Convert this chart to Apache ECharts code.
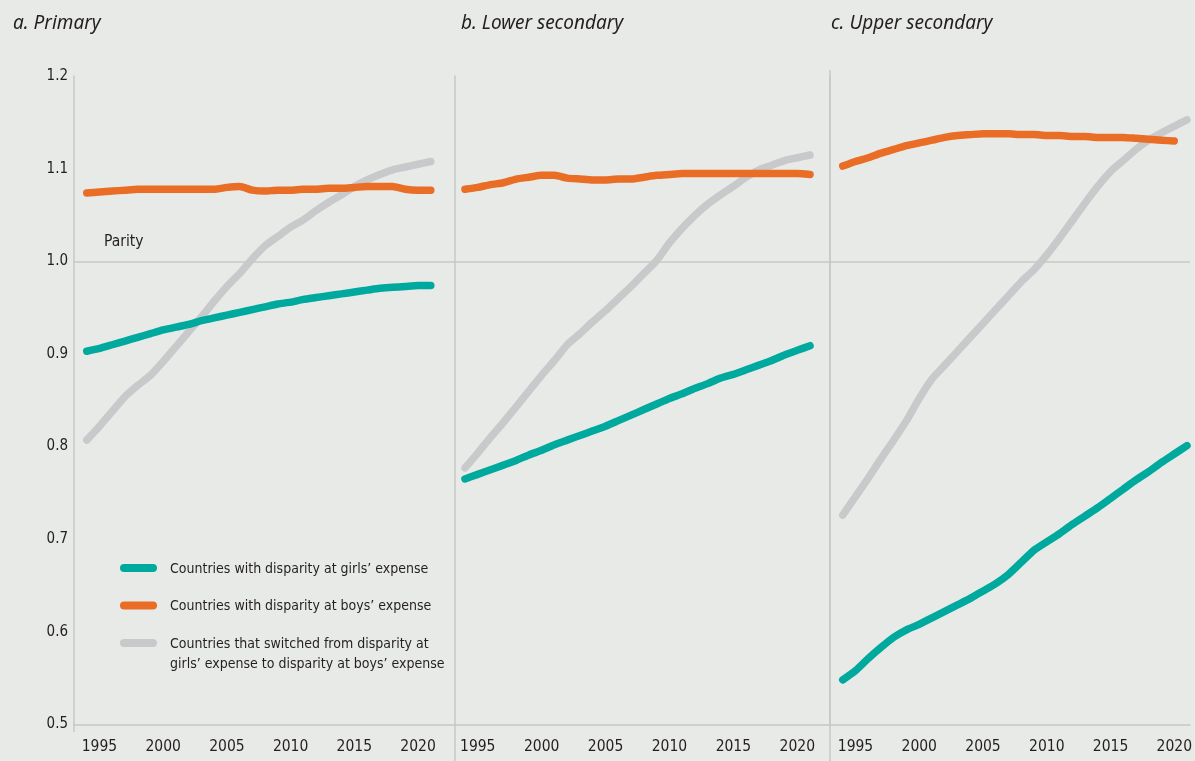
<!DOCTYPE html>
<html><head><meta charset="utf-8">
<script src="https://cdn.jsdelivr.net/npm/echarts@6/dist/echarts.min.js"></script>
<style>html,body{margin:0;padding:0;background:#e8eae7;}#c{width:1195px;height:761px;}</style>
</head><body><div id="c"></div><script>
const years = [1994,1995,1996,1997,1998,1999,2000,2001,2002,2003,2004,2005,2006,2007,2008,2009,2010,2011,2012,2013,2014,2015,2016,2017,2018,2019,2020,2021];
const xTickLabels = [1995,2000,2005,2010,2015,2020];
const yTickLabels = [0.5,0.6,0.7,0.8,0.9,1.0,1.1,1.2];
const panelTitles = ['a. Primary','b. Lower secondary','c. Upper secondary'];
const seriesNames = ['Countries with disparity at girls\u2019 expense','Countries with disparity at boys\u2019 expense','Countries that switched from disparity at\ngirls\u2019 expense to disparity at boys\u2019 expense'];

// a. Primary
const primaryGirls = [0.903,0.906,0.910,0.914,0.918,0.922,0.926,0.929,0.932,0.936,0.939,0.942,0.945,0.948,0.951,0.954,0.956,0.959,0.961,0.963,0.965,0.967,0.969,0.971,0.972,0.973,0.974,0.974];
const primaryBoys = [1.074,1.075,1.076,1.077,1.078,1.078,1.078,1.078,1.078,1.078,1.078,1.080,1.081,1.077,1.076,1.077,1.077,1.078,1.078,1.079,1.079,1.080,1.081,1.081,1.081,1.078,1.077,1.077];
const primarySwitched = [0.807,0.822,0.838,0.854,0.866,0.877,0.892,0.908,0.924,0.940,0.957,0.973,0.987,1.003,1.017,1.027,1.037,1.045,1.055,1.064,1.072,1.081,1.088,1.094,1.099,1.102,1.105,1.108];
// b. Lower secondary
const lowerGirls = [0.765,0.770,0.775,0.780,0.785,0.791,0.796,0.802,0.807,0.812,0.817,0.822,0.828,0.834,0.840,0.846,0.852,0.857,0.863,0.868,0.874,0.878,0.883,0.888,0.893,0.899,0.904,0.909];
const lowerBoys = [1.078,1.080,1.083,1.085,1.089,1.091,1.093,1.093,1.090,1.089,1.088,1.088,1.089,1.089,1.091,1.093,1.094,1.095,1.095,1.095,1.095,1.095,1.095,1.095,1.095,1.095,1.095,1.094];
const lowerSwitched = [0.777,0.793,0.810,0.826,0.843,0.860,0.877,0.893,0.910,0.922,0.935,0.947,0.960,0.973,0.987,1.001,1.020,1.036,1.050,1.062,1.072,1.081,1.091,1.099,1.104,1.109,1.112,1.115];
// c. Upper secondary
const upperGirls = [0.548,0.558,0.571,0.583,0.594,0.602,0.608,0.615,0.622,0.629,0.636,0.644,0.652,0.662,0.675,0.688,0.697,0.706,0.716,0.725,0.734,0.744,0.754,0.764,0.773,0.783,0.792,0.801];
const upperBoys = [1.103,1.108,1.112,1.117,1.121,1.125,1.128,1.131,1.134,1.136,1.137,1.138,1.138,1.138,1.137,1.137,1.136,1.136,1.135,1.135,1.134,1.134,1.134,1.133,1.132,1.131,1.130];
const upperSwitched = [0.726,0.746,0.766,0.787,0.807,0.828,0.852,0.873,0.888,0.903,0.918,0.933,0.948,0.963,0.978,0.991,1.007,1.025,1.044,1.063,1.081,1.097,1.109,1.121,1.131,1.139,1.146,1.153];

const COLORS = ['#00a99d','#e96d25','#c8c9cb'];
const AXIS_GREY = '#c6c8c6';
const FONT = "'Liberation Sans Narrow','DejaVu Sans Condensed','Roboto','Noto Sans',sans-serif";
const TEXT = '#231f20';

const panels = [
  {left:74, width:381, min:1993.0, max:2022.9, data:[primaryGirls, primaryBoys, primarySwitched]},
  {left:455, width:375, min:1993.22, max:2022.56, data:[lowerGirls, lowerBoys, lowerSwitched]},
  {left:830, width:363, min:1993.0, max:2021.23, data:[upperGirls, upperBoys, upperSwitched]}
];

const pair = arr => arr.map((v,i)=>[years[i], v]);

const grid = [], xAxis = [], yAxis = [], series = [];
panels.forEach((p, k) => {
  grid.push({left:p.left, width:p.width, top:76.3, height:648, containLabel:false});
  xAxis.push({
    type:'value', gridIndex:k, min:p.min, max:p.max,
    axisLine:{show:true, lineStyle:{color:AXIS_GREY, width:1.5}},
    axisTick:{show:false}, splitLine:{show:false},
    axisLabel:{show:true, customValues:xTickLabels, formatter:v=>String(v), margin:15, fontSize:15.5, color:TEXT, fontFamily:FONT}
  });
  yAxis.push({
    type:'value', gridIndex:k, min:0.5, max:1.2, interval:0.1,
    axisLine:{show:true, lineStyle:{color:AXIS_GREY, width:1.5}},
    axisTick:{show:false}, splitLine:{show:false},
    axisLabel:{show:k===0, formatter:v=>v.toFixed(1), margin:6, fontSize:15, color:TEXT, fontFamily:FONT}
  });
  series.push({
    type:'line', xAxisIndex:k, yAxisIndex:k, data:[], z:1, silent:true,
    markLine:{silent:true, symbol:'none', label:{show:false},
      lineStyle:{color:AXIS_GREY, width:1.5, type:'solid'}, data:[{yAxis:1.0}]}
  });
  p.data.forEach((arr, j) => {
    series.push({
      name: seriesNames[j], type:'line', xAxisIndex:k, yAxisIndex:k,
      data: pair(arr), showSymbol:false, symbol:'none', smooth:0.2, z: 3 + (j===2 ? 0 : 1),
      lineStyle:{color:COLORS[j], width:7.5, cap:'round', join:'round'},
      itemStyle:{color:COLORS[j]}
    });
  });
});

const legendRows = [568, 605.5, 643];
const graphic = [
  {type:'line', shape:{x1:455, y1:724, x2:455, y2:761}, style:{stroke:AXIS_GREY, lineWidth:1.5}},
  {type:'line', shape:{x1:830, y1:70, x2:830, y2:761}, style:{stroke:AXIS_GREY, lineWidth:1.5}},
  {type:'line', shape:{x1:74, y1:724, x2:74, y2:732}, style:{stroke:AXIS_GREY, lineWidth:1.5}},
  {type:'text', left:104, top:234, style:{text:'Parity', fontSize:15.5, fill:TEXT, fontFamily:FONT}}
];
legendRows.forEach((y, j) => {
  graphic.push({type:'line', shape:{x1:124, y1:y, x2:153, y2:y}, style:{stroke:COLORS[j], lineWidth:8, lineCap:'round'}});
  graphic.push({type:'text', x:170, y:y-9, style:{text:seriesNames[j], fontSize:14, lineHeight:20, fill:TEXT, fontFamily:FONT}});
});

const title = panelTitles.map((t, k) => ({
  text:t, left:[8,456,826][k], top:9,
  textStyle:{fontStyle:'italic', fontWeight:'normal', fontSize:19, color:TEXT, fontFamily:"'Noto Sans','Open Sans',sans-serif"}
}));

const chart = echarts.init(document.getElementById('c'), null, {renderer:'canvas'});
chart.setOption({
  backgroundColor:'#e8eae7', animation:false,
  title, grid, xAxis, yAxis, series, graphic
});
</script></body></html>
